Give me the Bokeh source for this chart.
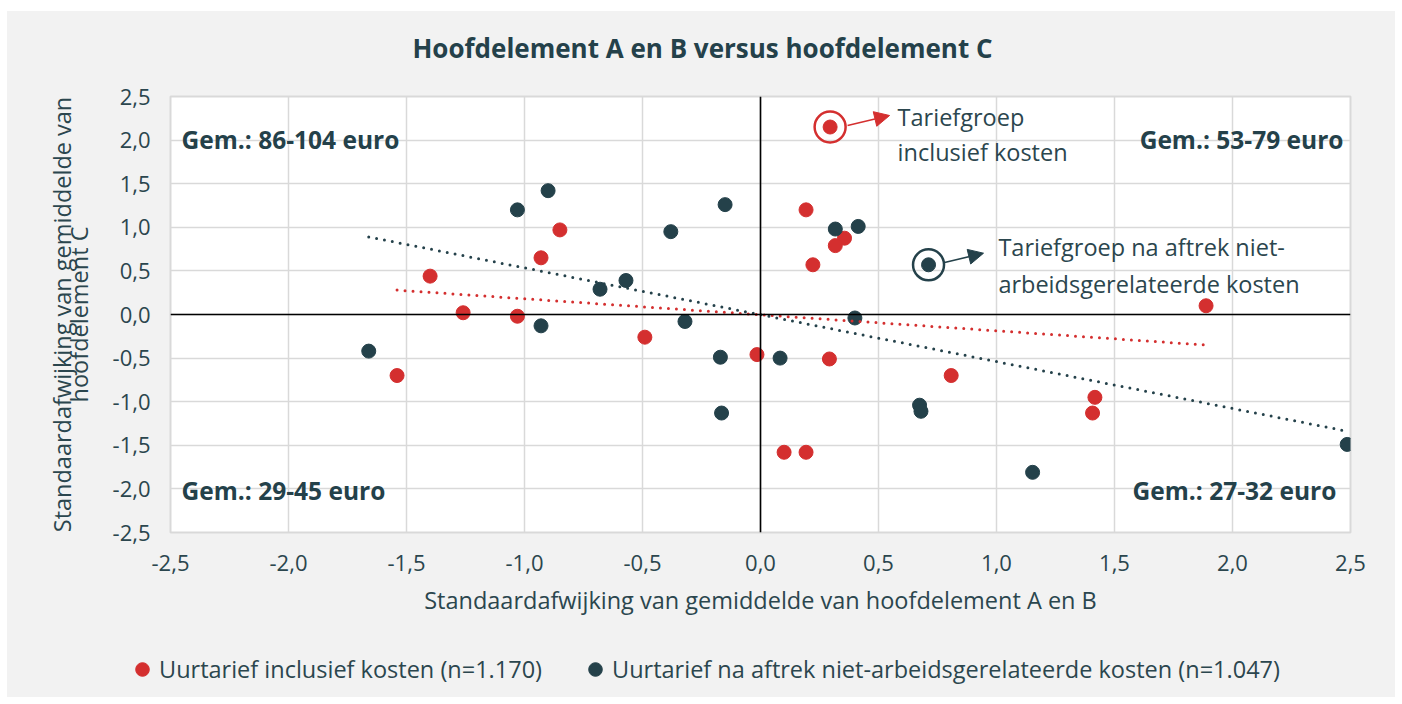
from bokeh.plotting import figure
from bokeh.layouts import column, row
from bokeh.models import Range1d, FixedTicker, Span, Label, Arrow, NormalHead, Legend, LegendItem
from bokeh.embed import file_html
from bokeh.resources import INLINE

# ---------------- data ----------------
red_x = [0.295, 0.193, -0.85, -0.93, 0.356, 0.317, 0.222, -1.40, -1.26, -1.03,
         1.888, -0.49, -0.015, 0.292, -1.54, 0.808, 1.417, 1.407, 0.10, 0.193]
red_y = [2.15, 1.20, 0.97, 0.65, 0.875, 0.79, 0.57, 0.44, 0.02, -0.02,
         0.10, -0.26, -0.46, -0.51, -0.70, -0.70, -0.95, -1.13, -1.58, -1.58]
dark_x = [-0.90, -1.03, -0.15, -0.38, -0.57, -0.68, -0.32, -0.93, -1.66, -0.17,
          -0.165, 0.317, 0.414, 0.712, 0.40, 0.083, 0.674, 0.68, 1.153, 2.486]
dark_y = [1.42, 1.20, 1.26, 0.95, 0.39, 0.29, -0.08, -0.13, -0.42, -0.49,
          -1.13, 0.98, 1.01, 0.57, -0.04, -0.50, -1.04, -1.11, -1.81, -1.49]
red_highlight = 0
dark_highlight = 13

red_trend_x = [-1.54, 1.89]
red_trend_y = [0.28, -0.35]
dark_trend_x = [-1.66, 2.47]
dark_trend_y = [0.89, -1.33]

ticks = [-2.5, -2.0, -1.5, -1.0, -0.5, 0.0, 0.5, 1.0, 1.5, 2.0, 2.5]
tick_labels = ["-2,5", "-2,0", "-1,5", "-1,0", "-0,5", "0,0", "0,5", "1,0", "1,5", "2,0", "2,5"]

title_text = "Hoofdelement A en B versus hoofdelement C"
x_label = "Standaardafwijking van gemiddelde van hoofdelement A en B"
y_label = "Standaardafwijking van gemiddelde van\nhoofdelement C"
red_name = "Uurtarief inclusief kosten (n=1.170)"
dark_name = "Uurtarief na aftrek niet-arbeidsgerelateerde kosten (n=1.047)"
quadrant_texts = ["Gem.: 86-104 euro", "Gem.: 53-79 euro", "Gem.: 29-45 euro", "Gem.: 27-32 euro"]

# ---------------- style ----------------
RED = "#d42f2f"
DARK = "#24414a"
TXT = "#2b464e"
BG = "#f2f2f2"
GRID = "#d9d9d9"
FONT = "Open Sans"


def strip(height, xr, yr):
    f = figure(width=1388, height=height, output_backend="svg", toolbar_location=None,
               x_axis_location=None, y_axis_location=None, x_range=xr, y_range=yr,
               min_border=0, min_border_left=0, min_border_right=0,
               min_border_top=0, min_border_bottom=0)
    f.grid.visible = False
    f.outline_line_color = None
    f.background_fill_color = BG
    f.border_fill_color = BG
    return f


# ---------------- title strip ----------------
tf = strip(66, Range1d(7, 1395), Range1d(77, 11))
tf.add_layout(Label(x=702, y=47, text=title_text, text_font=FONT, text_font_size="26px",
                    text_font_style="bold", text_color=DARK, text_align="center",
                    text_baseline="middle"))

# ---------------- main chart ----------------
p = figure(width=1388, height=563, output_backend="svg", toolbar_location=None,
           x_range=Range1d(-2.5, 2.5), y_range=Range1d(-2.5, 2.5),
           min_border_left=163, min_border_right=45, min_border_top=19, min_border_bottom=108)
p.background_fill_color = "white"
p.border_fill_color = BG
p.outline_line_color = GRID
p.outline_line_width = 2

for ax in (p.xaxis[0], p.yaxis[0]):
    ax.ticker = FixedTicker(ticks=ticks)
    ax.major_label_overrides = {t: l for t, l in zip(ticks, tick_labels)}
    ax.axis_line_color = None
    ax.major_tick_line_color = None
    ax.minor_tick_line_color = None
    ax.major_tick_in = 0
    ax.major_tick_out = 0
    ax.major_label_text_font = FONT
    ax.major_label_text_font_size = "22px"
    ax.major_label_text_color = TXT
    ax.axis_label_text_font = FONT
    ax.axis_label_text_font_size = "23.5px"
    ax.axis_label_text_font_style = "normal"
    ax.axis_label_text_color = TXT

p.xaxis.axis_label = x_label
p.yaxis.axis_label = y_label
p.yaxis.axis_label_text_line_height = 0.52
p.xaxis.major_label_standoff = 22
p.xaxis.axis_label_standoff = 10
p.yaxis.major_label_standoff = 20
p.yaxis.axis_label_standoff = 15

p.xgrid.ticker = FixedTicker(ticks=ticks)
p.ygrid.ticker = FixedTicker(ticks=ticks)
p.grid.grid_line_color = GRID
p.grid.grid_line_width = 1.5

p.add_layout(Span(location=0, dimension="width", line_color="black", line_width=1.6))
p.add_layout(Span(location=0, dimension="height", line_color="black", line_width=1.6))

# points
r_red = p.scatter(red_x, red_y, size=14, color=RED, line_color=RED)
r_dark = p.scatter(dark_x, dark_y, size=14, color=DARK, line_color=DARK)

# highlight rings
p.scatter([red_x[red_highlight]], [red_y[red_highlight]], size=31, fill_color=None,
          line_color=RED, line_width=2.5)
p.scatter([dark_x[dark_highlight]], [dark_y[dark_highlight]], size=31, fill_color=None,
          line_color=DARK, line_width=2.5)

# trend lines
p.line(red_trend_x, red_trend_y, line_color=RED, line_width=3, line_dash="0 8", line_cap="round")
p.line(dark_trend_x, dark_trend_y, line_color=DARK, line_width=3, line_dash="0 8", line_cap="round")

# arrows
p.add_layout(Arrow(x_start=0.369, y_start=2.167, x_end=0.547, y_end=2.282,
                   line_color=RED, line_width=1.6,
                   end=NormalHead(size=15, fill_color=RED, line_color=RED)))
p.add_layout(Arrow(x_start=0.78, y_start=0.596, x_end=0.945, y_end=0.703,
                   line_color=DARK, line_width=1.6,
                   end=NormalHead(size=15, fill_color=DARK, line_color=DARK)))


def lab(x, y, t, size="23.5px", style="normal", align="left", color=TXT):
    p.add_layout(Label(x=x, y=y, text=t, text_font=FONT, text_font_size=size,
                       text_font_style=style, text_align=align, text_baseline="middle",
                       text_color=color))


lab(0.581, 2.27, "Tariefgroep")
lab(0.581, 1.86, "inclusief kosten")
lab(1.008, 0.77, "Tariefgroep na aftrek niet-")
lab(1.008, 0.345, "arbeidsgerelateerde kosten")

lab(-2.453, 2.007, quadrant_texts[0], size="24.5px", style="bold", color=DARK)
lab(2.47, 2.007, quadrant_texts[1], size="24.5px", style="bold", align="right", color=DARK)
lab(-2.453, -2.018, quadrant_texts[2], size="24.5px", style="bold", color=DARK)
lab(2.44, -2.018, quadrant_texts[3], size="24.5px", style="bold", align="right", color=DARK)

# ---------------- legend strip ----------------
lf = strip(57, Range1d(0, 1), Range1d(0, 1))
lr = lf.scatter([-10], [-10], size=14, color=RED, line_color=RED)
ld = lf.scatter([-10], [-10], size=14, color=DARK, line_color=DARK)
lg = Legend(items=[LegendItem(label=red_name, renderers=[lr]),
                   LegendItem(label=dark_name, renderers=[ld])],
            location=(118, 11), orientation="horizontal", padding=0, margin=0,
            spacing=36, border_line_color=None, background_fill_alpha=0,
            glyph_width=34, glyph_height=34, label_standoff=0,
            label_text_font=FONT, label_text_font_size="23.5px", label_text_color=TXT,
            label_height=24)
lf.add_layout(lg, "center")

layout = column(row(tf), p, row(lf), spacing=0,
                styles={"background-color": BG})
layout.margin = (11, 0, 0, 7)
open("out.html", "w").write(file_html(layout, INLINE))
